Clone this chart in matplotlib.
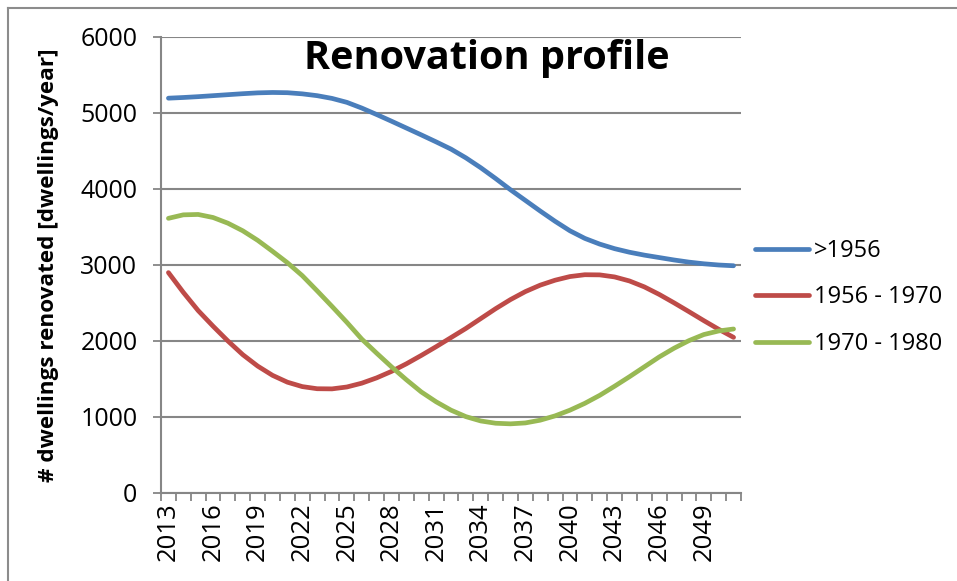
import matplotlib
matplotlib.use("Agg")
import matplotlib.pyplot as plt
from matplotlib.lines import Line2D
import numpy as np

years = list(range(2013, 2052))
tick_years = list(range(2013, 2050, 3))

series_names = [">1956", "1956 - 1970", "1970 - 1980"]

pre_1956 = [5195, 5204, 5215, 5228, 5241, 5254, 5265, 5270, 5267, 5252,
            5228, 5192, 5140, 5065, 4980, 4892, 4802, 4712, 4620, 4525,
            4410, 4280, 4138, 3990, 3850, 3710, 3575, 3450, 3350, 3275,
            3215, 3168, 3130, 3098, 3066, 3038, 3016, 3000, 2990]

y1956_1970 = [2900, 2640, 2400, 2195, 2000, 1820, 1670, 1548, 1458, 1400,
              1372, 1370, 1395, 1445, 1515, 1600, 1700, 1810, 1925, 2045,
              2165, 2295, 2425, 2545, 2650, 2735, 2800, 2848, 2872, 2870,
              2843, 2790, 2712, 2613, 2502, 2386, 2268, 2154, 2048]

y1970_1980 = [3614, 3660, 3665, 3625, 3550, 3450, 3325, 3180, 3030, 2860,
              2660, 2455, 2245, 2025, 1840, 1660, 1490, 1330, 1200, 1090,
              1005, 948, 918, 910, 922, 958, 1015, 1090, 1180, 1285,
              1405, 1530, 1660, 1790, 1905, 2005, 2085, 2132, 2158]

colors = ["#4A7EBB", "#BE4B48", "#98B954"]
grid_col = "#868686"

W, H = 957, 581
fig = plt.figure(figsize=(W / 100, H / 100), dpi=100)
ax = fig.add_axes([161 / W, 1 - 493 / H, (741 - 161) / W, (493 - 37) / H])

x = np.arange(len(years))
for vals, c, name in zip([pre_1956, y1956_1970, y1970_1980], colors, series_names):
    ax.plot(x, vals, color=c, lw=3.4, solid_capstyle="round",
            solid_joinstyle="round", label=name)

ax.set_xlim(-0.5, len(years) - 0.5)
ax.set_ylim(0, 6000)
ax.set_yticks(range(0, 6001, 1000))
ax.yaxis.grid(True, color=grid_col, lw=1.5)
ax.set_axisbelow(True)

ax.set_xticks([years.index(t) for t in tick_years])
ax.set_xticklabels([str(t) for t in tick_years], rotation=90, fontsize=18.5,
                   family="Open Sans")
ax.set_xticks(np.arange(len(years) + 1) - 0.5, minor=True)
ax.tick_params(axis="x", which="major", length=0, pad=7)
ax.tick_params(axis="x", which="minor", length=6, width=1.3, color=grid_col)
ax.tick_params(axis="y", length=6, width=1.3, color=grid_col, pad=11,
               labelsize=18)
for lab in ax.get_yticklabels():
    lab.set_family("Open Sans")

for s in ["top", "right"]:
    ax.spines[s].set_visible(False)
for s in ["left", "bottom"]:
    ax.spines[s].set_color(grid_col)
    ax.spines[s].set_linewidth(1.5)

ax.set_ylabel("# dwellings renovated [dwellings/year]", fontsize=16.2,
              fontweight="bold", family="Open Sans")
ax.yaxis.set_label_coords(-(161 - 59) / (741 - 161), (493 - 265) / (493 - 37))

fig.text(487 / W, 1 - 58 / H, "Renovation profile", ha="center", va="center",
         fontsize=28.5, fontweight="bold", family="Open Sans")

leg = fig.legend(loc="upper left", bbox_to_anchor=(755 / W, 1 - 239 / H),
                 frameon=False, handlelength=2.3, borderpad=0,
                 borderaxespad=0, handletextpad=0.2, labelspacing=0.95,
                 prop={"family": "Open Sans", "size": 17})

# outer chart border (top and left)
fig.add_artist(Line2D([8 / W, 1], [1 - 8 / H, 1 - 8 / H], color="#8c8c8c", lw=1.5,
                      transform=fig.transFigure))
fig.add_artist(Line2D([8 / W, 8 / W], [0, 1 - 8 / H], color="#8c8c8c", lw=1.5,
                      transform=fig.transFigure))

fig.savefig("out.png", dpi=100)
